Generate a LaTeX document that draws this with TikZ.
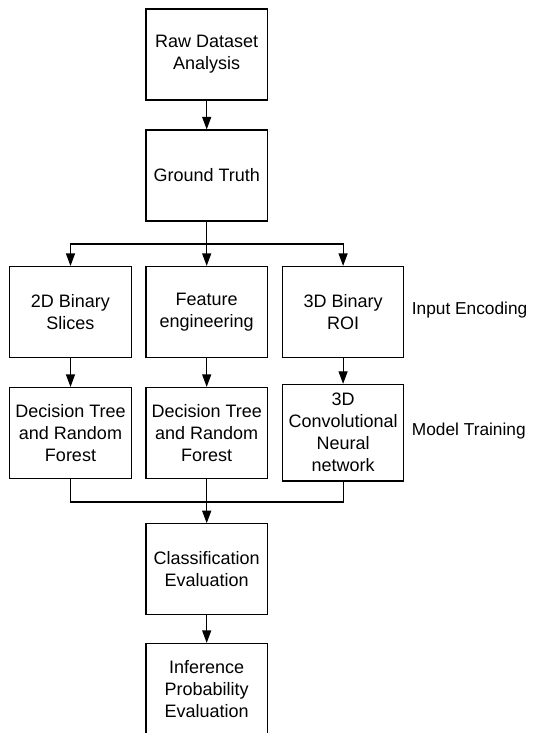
\documentclass[tikz,border=0pt]{standalone}
\usepackage{fontspec}
\setmainfont{Liberation Sans}
\usetikzlibrary{arrows.meta}
\begin{document}
\begin{tikzpicture}[x=1pt,y=-1pt,
  box/.style={draw, line width=1.2pt, minimum width=121.5pt, minimum height=91pt, inner sep=0pt, align=center, font=\fontsize{18}{22}\selectfont},
  lbl/.style={anchor=west, inner sep=0pt, font=\fontsize{17.3}{22}\selectfont},
  conn/.style={line width=1.2pt},
  arr/.style={line width=1.2pt, -{Triangle[length=12.5pt,width=9pt]}}]
\useasboundingbox (0,0) rectangle (534,733);
\node[box] (raw) at (206.7,54.5) {Raw Dataset\\Analysis};
\node[box] (gt) at (206.7,175.5) {Ground Truth};
\node[box] (bs) at (70.5,312) {2D Binary\\Slices};
\node[box] (fe) at (206.7,312) {Feature\\engineering};
\node[box] (roi) at (343.1,312) {3D Binary\\ROI};
\node[box] (dt1) at (70.5,433) {Decision Tree\\and Random\\Forest};
\node[box] (dt2) at (206.7,433) {Decision Tree\\and Random\\Forest};
\node[box, minimum height=96.5pt] (cnn) at (343.1,432.7) {3D\\Convolutional\\Neural\\network};
\node[box] (ce) at (206.7,569.3) {Classification\\Evaluation};
\node[box] (ipe) at (206.7,689) {Inference\\Probability\\Evaluation};
\node[lbl] (ie) at (411.7,310) {Input Encoding};
\node[lbl] (mt) at (411.7,431) {Model Training};
\coordinate (br) at (206.7,244);
\coordinate (mg) at (206.7,502);
\draw[arr] (raw) -- (gt);
\draw[conn] (gt.south) -- (br);
\draw[arr] (br) -- (fe.north);
\draw[arr] (br) -| (bs.north);
\draw[arr] (br) -| (roi.north);
\draw[arr] (bs) -- (dt1);
\draw[arr] (fe) -- (dt2);
\draw[arr] (roi) -- (cnn);
\draw[conn] (dt1.south) |- (mg);
\draw[conn] (cnn.south) |- (mg);
\draw[arr] (dt2.south) -- (ce.north);
\draw[arr] (ce) -- (ipe);
\end{tikzpicture}
\end{document}
